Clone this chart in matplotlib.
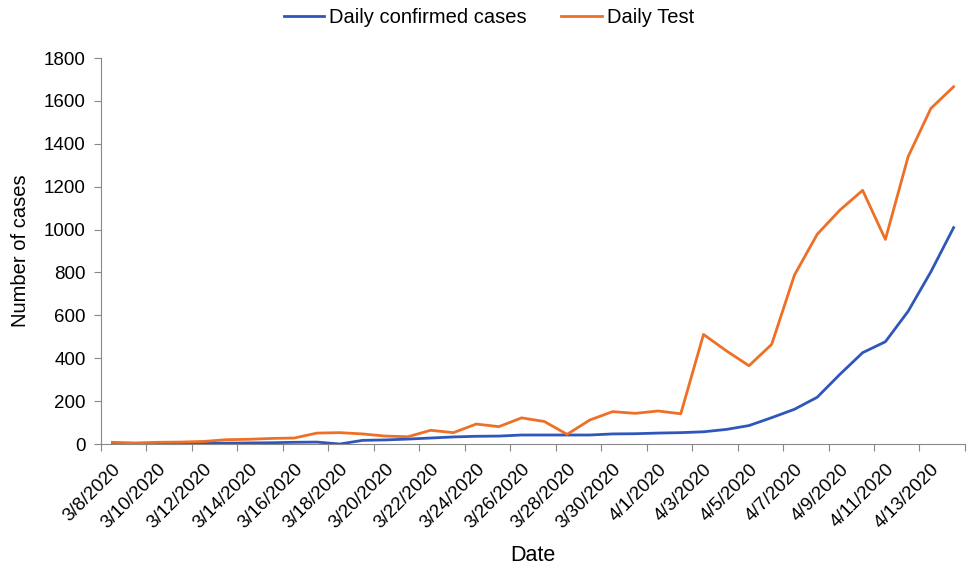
import numpy as np
import matplotlib.pyplot as plt
from matplotlib.ticker import MultipleLocator, FixedLocator

plt.rcParams['font.family'] = ['Liberation Sans', 'DejaVu Sans']

dates = ['3/8/2020', '3/9/2020', '3/10/2020', '3/11/2020', '3/12/2020', '3/13/2020',
         '3/14/2020', '3/15/2020', '3/16/2020', '3/17/2020', '3/18/2020', '3/19/2020',
         '3/20/2020', '3/21/2020', '3/22/2020', '3/23/2020', '3/24/2020', '3/25/2020',
         '3/26/2020', '3/27/2020', '3/28/2020', '3/29/2020', '3/30/2020', '3/31/2020',
         '4/1/2020', '4/2/2020', '4/3/2020', '4/4/2020', '4/5/2020', '4/6/2020',
         '4/7/2020', '4/8/2020', '4/9/2020', '4/10/2020', '4/11/2020', '4/12/2020',
         '4/13/2020', '4/14/2020']
confirmed = [1, 1, 2, 3, 4, 4, 5, 6, 8, 9,
             0, 17, 19, 23, 28, 33, 36, 37,
             42, 42, 42, 42, 47, 48, 51, 53, 57, 68, 86, 123, 162, 218, 325, 426,
             477, 619, 803, 1009]
tests = [8, 5, 8, 9, 12, 20, 22, 26, 28, 51,
         53, 47, 37, 34, 64, 53, 93, 81,
         122, 105, 45, 112, 151, 143, 154, 141, 511, 435, 365, 465, 788, 978,
         1091, 1183, 954, 1340, 1565, 1666]

fig = plt.figure(figsize=(9.76, 5.75), dpi=100)
ax = fig.add_axes([0.1035, 0.2278, 0.8852, 0.6713])

x = np.arange(len(dates))
ax.plot(x, confirmed, color='#2F56BA', lw=2.0, label='Daily confirmed cases')
ax.plot(x, tests, color='#EE7026', lw=2.0, label='Daily Test')

ax.set_xlim(-0.5, len(dates) - 0.5)
ax.set_ylim(0, 1800)
ax.yaxis.set_major_locator(MultipleLocator(200))

# tick marks between categories, labels on every second date
ax.xaxis.set_major_locator(FixedLocator(np.arange(-0.5, len(dates), 2)))
ax.xaxis.set_minor_locator(FixedLocator(x[::2]))
ax.set_xticklabels([])
ax.set_xticklabels(dates[::2], minor=True, rotation=45, ha='right',
                   rotation_mode='anchor', fontsize=13.5)
ax.tick_params(axis='x', which='minor', length=0, pad=12)
ax.tick_params(axis='x', which='major', length=5, color='#888888')
ax.tick_params(axis='y', length=5, color='#888888', labelsize=13.5, pad=6)

for s in ['top', 'right']:
    ax.spines[s].set_visible(False)
for s in ['left', 'bottom']:
    ax.spines[s].set_color('#888888')

ax.set_xlabel('Date', fontsize=15.5, labelpad=9)
ax.set_ylabel('Number of cases', fontsize=14.5, labelpad=10)

fig.legend(loc='center', bbox_to_anchor=(0.501, 0.97), ncol=2, frameon=False,
           fontsize=14.5, handlelength=2.0, columnspacing=1.7, handletextpad=0.25)

fig.savefig('out.png', dpi=100)
